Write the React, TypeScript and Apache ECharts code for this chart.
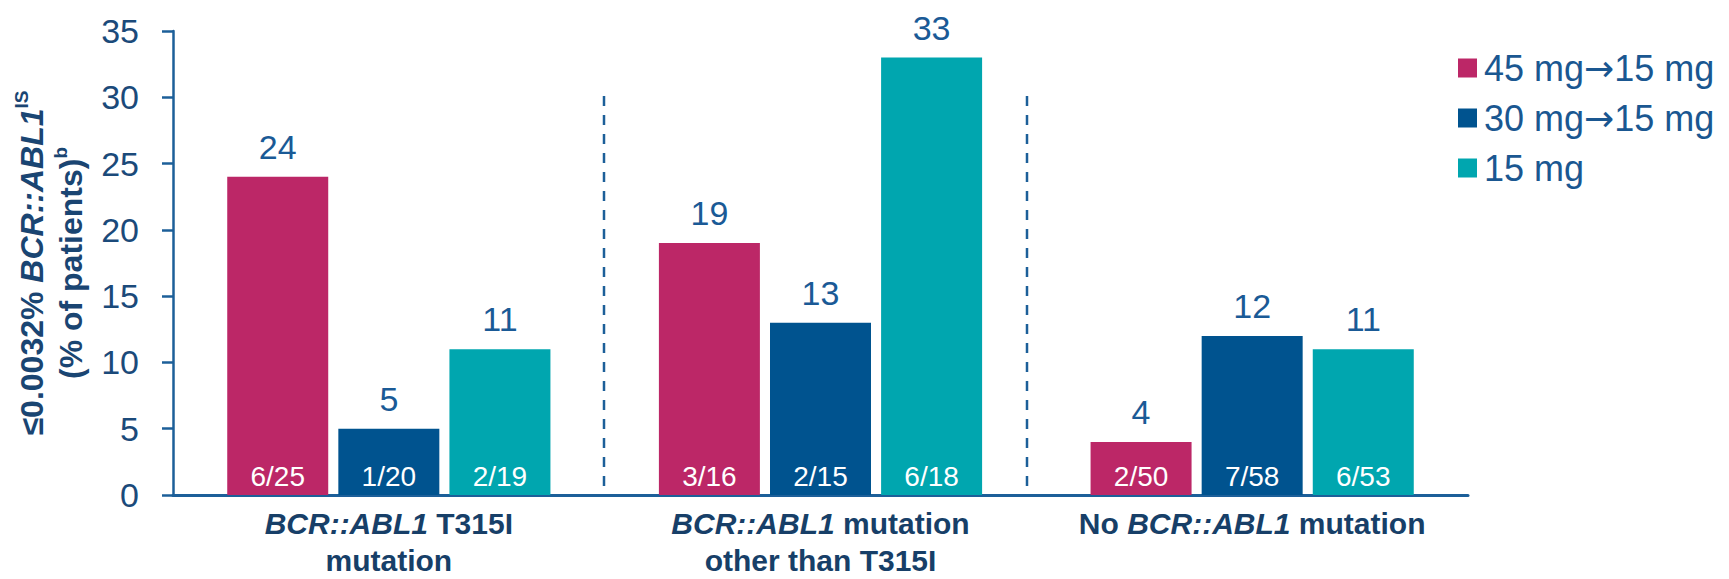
import React, { useEffect, useRef } from "react";
import * as echarts from "echarts";

const categories = [
  "BCR::ABL1 T315I mutation",
  "BCR::ABL1 mutation other than T315I",
  "No BCR::ABL1 mutation",
];
const categoryLabels = [
  "{i|BCR::ABL1} T315I\nmutation",
  "{i|BCR::ABL1} mutation\nother than T315I",
  "No {i|BCR::ABL1} mutation",
];
const seriesNames = ["45 mg→15 mg", "30 mg→15 mg", "15 mg"];
const values45to15 = [24, 19, 4];
const values30to15 = [5, 13, 12];
const values15 = [11, 33, 11];
const fractions45to15 = ["6/25", "3/16", "2/50"];
const fractions30to15 = ["1/20", "2/15", "7/58"];
const fractions15 = ["2/19", "6/18", "6/53"];
const colors = ["#BC2767", "#00538F", "#00A6AF"];

const FONT = "'Liberation Sans', Arial, sans-serif";
const AXIS_COLOR = "#1C5F99";
const TEXT_DARK = "#173F68";
const VALUE_COLOR = "#1A5A96";
const LEGEND_COLOR = "#1A5791";

export default function App() {
  const ref = useRef<HTMLDivElement>(null);
  useEffect(() => {
    if (!ref.current) return;
    const chart = echarts.init(ref.current, undefined, { renderer: "svg" });
    const valueSets = [values45to15, values30to15, values15];
    const fractionSets = [fractions45to15, fractions30to15, fractions15];

    const mainSeries = valueSets.map((vals, i) => ({
      name: seriesNames[i],
      type: "bar",
      xAxisIndex: 0,
      yAxisIndex: 0,
      data: vals,
      barWidth: 101,
      barGap: "10%",
      itemStyle: { color: colors[i] },
      label: {
        show: true,
        position: "top",
        distance: 13,
        fontFamily: FONT,
        fontSize: 34,
        color: VALUE_COLOR,
      },
    }));
    const overlaySeries = valueSets.map((vals, i) => ({
      name: seriesNames[i] + " n",
      type: "bar",
      xAxisIndex: 1,
      yAxisIndex: 0,
      data: vals,
      barWidth: 101,
      barGap: "10%",
      silent: true,
      itemStyle: { color: "rgba(0,0,0,0)" },
      label: {
        show: true,
        position: "insideBottom",
        distance: 5,
        fontFamily: FONT,
        fontSize: 28,
        color: "#FFFFFF",
        formatter: (p: any) => fractionSets[i][p.dataIndex],
      },
    }));

    chart.setOption({
      animation: false,
      textStyle: { fontFamily: FONT },
      grid: { left: 173, right: 261, top: 31, bottom: 81, containLabel: false },
      legend: {
        data: seriesNames,
        orient: "vertical",
        left: 1453,
        top: 45,
        icon: "rect",
        itemWidth: 19,
        itemHeight: 19,
        itemGap: 14,
        selectedMode: false,
        formatter: (name: string) => name.replace("→", "{a|→}"),
        textStyle: {
          fontFamily: FONT,
          fontSize: 36,
          lineHeight: 34,
          color: LEGEND_COLOR,
          padding: [0, 0, 0, 2],
          rich: {
            a: {
              fontFamily: "'DejaVu Sans', sans-serif",
              fontSize: 36,
              lineHeight: 34,
              color: LEGEND_COLOR,
            },
          },
        },
      },
      xAxis: [
        {
          type: "category",
          data: categories,
          axisLine: { show: true, lineStyle: { color: AXIS_COLOR, width: 3 } },
          axisTick: { show: false },
          axisLabel: {
            margin: 10,
            interval: 0,
            fontFamily: FONT,
            fontSize: 30,
            fontWeight: "bold",
            lineHeight: 37,
            color: TEXT_DARK,
            formatter: (_v: string, idx: number) => categoryLabels[idx],
            rich: {
              i: {
                fontFamily: FONT,
                fontSize: 30,
                fontWeight: "bold",
                fontStyle: "italic",
                lineHeight: 37,
                color: TEXT_DARK,
              },
            },
          },
        },
        {
          type: "category",
          data: categories,
          show: false,
        },
      ],
      yAxis: {
        type: "value",
        min: 0,
        max: 35,
        interval: 5,
        splitLine: { show: false },
        axisLine: { show: true, lineStyle: { color: AXIS_COLOR, width: 2.5 } },
        axisTick: { show: true, length: 11, lineStyle: { color: AXIS_COLOR, width: 2.5 } },
        axisLabel: {
          margin: 34,
          fontFamily: FONT,
          fontSize: 34,
          color: "#1B4A7A",
        },
        name:
          "{b|≤0.0032% }{bi|BCR::ABL1}{sup|IS}\n{b|(% of patients)}{sup|b}",
        nameLocation: "middle",
        nameRotate: 90,
        nameGap: 80,
        nameTextStyle: {
          fontFamily: FONT,
          fontSize: 32,
          fontWeight: "bold",
          color: "#1A4572",
          lineHeight: 39,
          rich: {
            b: {
              fontFamily: FONT,
              fontSize: 32,
              fontWeight: "bold",
              color: "#1A4572",
              lineHeight: 39,
            },
            bi: {
              fontFamily: FONT,
              fontSize: 32,
              fontWeight: "bold",
              fontStyle: "italic",
              color: "#1A4572",
              lineHeight: 39,
            },
            sup: {
              fontFamily: FONT,
              fontSize: 19,
              fontWeight: "bold",
              color: "#1A4572",
              lineHeight: 22,
              verticalAlign: "top",
            },
          },
        },
      },
      series: [...mainSeries, ...overlaySeries],
    });

    // dashed separators between category groups
    const yTop = chart.convertToPixel({ yAxisIndex: 0 }, 30.1) as number;
    const yBottom = chart.convertToPixel({ yAxisIndex: 0 }, 0) as number;
    const separatorX = [604, 1027];
    chart.setOption({
      graphic: separatorX.map((x) => ({
        type: "line",
        silent: true,
        z: 0,
        shape: { x1: x, y1: yTop, x2: x, y2: yBottom },
        style: { stroke: AXIS_COLOR, lineWidth: 2.5, lineDash: [10, 9] },
      })),
    });

    return () => chart.dispose();
  }, []);
  return (
    <div
      ref={ref}
      style={{ position: "fixed", left: 0, top: 0, width: 1729, height: 579, background: "#fff" }}
    />
  );
}
